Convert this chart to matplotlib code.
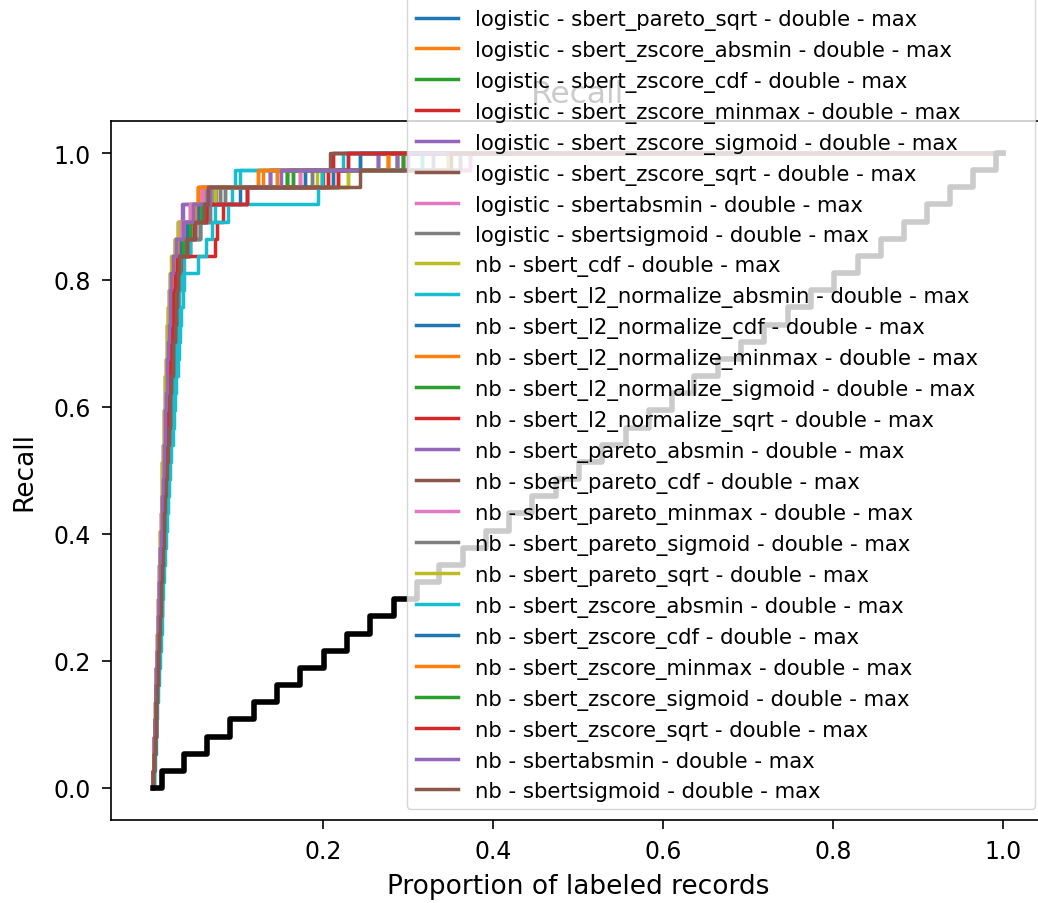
import numpy as np
import matplotlib
matplotlib.use("Agg")
import matplotlib.pyplot as plt

N_RECORDS = 2000
N_RELEVANT = 37

MODELS = ["logistic"] * 18 + ["nb"] * 18
FEATURES = [
    "sbert_cdf", "sbert_l2_normalize_absmin", "sbert_l2_normalize_cdf",
    "sbert_l2_normalize_minmax", "sbert_l2_normalize_sigmoid", "sbert_l2_normalize_sqrt",
    "sbert_pareto_absmin", "sbert_pareto_cdf", "sbert_pareto_minmax",
    "sbert_pareto_sigmoid", "sbert_pareto_sqrt", "sbert_zscore_absmin",
    "sbert_zscore_cdf", "sbert_zscore_minmax", "sbert_zscore_sigmoid",
    "sbert_zscore_sqrt", "sbertabsmin", "sbertsigmoid",
] * 2

# record index at which relevant records 1..30 are found (early, steep phase)
P40 = [1, 2, 3, 4, 5, 6, 7, 9, 10, 11, 12, 13, 15, 16, 17, 18, 20, 21, 22, 24, 25, 26, 28, 29, 31, 32, 34, 35, 37, 39]
P44 = [1, 2, 3, 4, 6, 7, 8, 9, 11, 12, 13, 15, 16, 17, 19, 20, 22, 23, 25, 26, 28, 29, 31, 32, 34, 36, 37, 39, 41, 43]
P48 = [1, 2, 3, 5, 6, 7, 9, 10, 11, 13, 14, 16, 17, 19, 20, 22, 23, 25, 26, 28, 30, 31, 33, 35, 37, 39, 41, 43, 45, 47]
P52 = [1, 2, 4, 5, 6, 8, 9, 11, 12, 14, 15, 17, 18, 20, 21, 23, 25, 26, 28, 30, 32, 34, 35, 37, 39, 41, 44, 46, 48, 51]
P56 = [1, 3, 4, 5, 7, 8, 10, 12, 13, 15, 16, 18, 20, 21, 23, 25, 27, 28, 30, 32, 34, 36, 38, 40, 42, 45, 47, 50, 52, 55]
P60 = [1, 3, 4, 6, 8, 9, 11, 12, 14, 16, 18, 19, 21, 23, 25, 27, 29, 31, 33, 35, 37, 39, 41, 43, 46, 48, 51, 54, 56, 59]
P66 = [2, 3, 5, 7, 8, 10, 12, 14, 16, 18, 20, 22, 24, 26, 28, 30, 32, 34, 36, 38, 41, 43, 46, 48, 51, 54, 57, 60, 62, 65]
P74 = [2, 4, 6, 8, 10, 12, 14, 16, 18, 20, 22, 24, 26, 29, 31, 33, 36, 38, 41, 43, 46, 49, 52, 55, 58, 61, 64, 67, 70, 73]

# which early profile each run follows
EARLY = [P48, P44, P56, P60, P40, P52, P48, P56, P44, P66,
         P52, P44, P52, P60, P40, P56, P52, P60,
         P40, P66, P56, P44, P52, P60, P48, P56, P48, P60, P52, P74,
         P56, P48, P56, P52, P44, P60]

# record index at which relevant records 31..37 are found
LATE = [
    [50, 56, 70, 94, 128, 292, 530],
    [46, 52, 60, 88, 106, 248, 552],
    [58, 66, 80, 106, 134, 316, 574],
    [62, 80, 98, 116, 146, 346, 588],
    [44, 54, 58, 70, 116, 276, 530],
    [56, 66, 88, 106, 134, 276, 746],
    [52, 60, 74, 96, 120, 358, 632],
    [60, 70, 88, 110, 146, 374, 658],
    [48, 54, 62, 98, 128, 386, 694],
    [70, 86, 110, 134, 170, 204, 424],
    [54, 62, 80, 106, 146, 398, 458],
    [48, 52, 60, 94, 106, 258, 552],
    [56, 66, 80, 110, 128, 316, 574],
    [66, 86, 110, 128, 158, 436, 588],
    [44, 52, 58, 68, 116, 276, 530],
    [58, 70, 88, 116, 146, 412, 722],
    [54, 62, 80, 106, 134, 424, 694],
    [62, 74, 98, 128, 158, 398, 658],
    [42, 52, 58, 88, 116, 458, 632],
    [72, 86, 110, 146, 186, 192, 448],
    [60, 70, 88, 116, 204, 424, 488],
    [46, 56, 70, 94, 106, 248, 552],
    [56, 66, 88, 106, 134, 316, 574],
    [64, 146, 150, 164, 222, 412, 424],
    [52, 58, 70, 94, 128, 330, 574],
    [60, 70, 98, 128, 146, 400, 416],
    [50, 56, 66, 88, 116, 346, 746],
    [64, 80, 110, 134, 170, 374, 722],
    [56, 66, 88, 116, 146, 458, 694],
    [106, 124, 138, 176, 388, 398, 632],
    [58, 66, 80, 106, 222, 358, 488],
    [50, 56, 70, 98, 106, 292, 552],
    [60, 70, 88, 116, 134, 330, 588],
    [56, 80, 96, 124, 222, 436, 458],
    [46, 54, 70, 94, 134, 300, 600],
    [62, 80, 98, 120, 130, 488, 700],
]

# random baseline: proportion of records at which each relevant record is found
RANDOM_X = [0.010, 0.037, 0.064, 0.091, 0.119, 0.146, 0.173, 0.201, 0.228, 0.255,
            0.283, 0.310, 0.337, 0.365, 0.392, 0.419, 0.446, 0.474, 0.501, 0.528,
            0.556, 0.583, 0.610, 0.637, 0.665, 0.692, 0.719, 0.747, 0.774, 0.801,
            0.829, 0.856, 0.883, 0.910, 0.938, 0.965, 0.992]

X_TICKS = [0.2, 0.4, 0.6, 0.8, 1.0]
Y_TICKS = [0.0, 0.2, 0.4, 0.6, 0.8, 1.0]

fig = plt.figure(figsize=(10.38, 9.04), dpi=100)
ax = fig.add_axes([110.5 / 1038, (904 - 820.75) / 904,
                   (1045.5 - 110.5) / 1038, (820.75 - 122.25) / 904])

levels = np.arange(0, N_RELEVANT + 1) / N_RELEVANT
for model, feat, early, late in zip(MODELS, FEATURES, EARLY, LATE):
    hits = np.array(early + late) / N_RECORDS
    x = np.concatenate([[0.0], hits, [1.0]])
    y = np.concatenate([levels, [1.0]])
    ax.step(x, y, where="post", lw=2.5,
            label=f"{model} - {feat} - double - max")

rx = np.concatenate([[0.0], RANDOM_X, [1.0]])
ry = np.concatenate([levels, [1.0]])
ax.step(rx, ry, where="post", color="black", lw=4)

ax.set_xticks(X_TICKS)
ax.set_yticks(Y_TICKS)
ax.tick_params(labelsize=17, length=6.5, width=1.2, pad=7.5)
for s in ax.spines.values():
    s.set_linewidth(1.2)
ax.set_xlabel("Proportion of labeled records", fontsize=19, labelpad=7)
ax.set_ylabel("Recall", fontsize=19, labelpad=12)
ax.set_title("Recall", fontsize=22.5, pad=14)

ax.legend(loc="lower right", fontsize=15.3, labelspacing=0.47)

fig.savefig("out.png", dpi=100)
